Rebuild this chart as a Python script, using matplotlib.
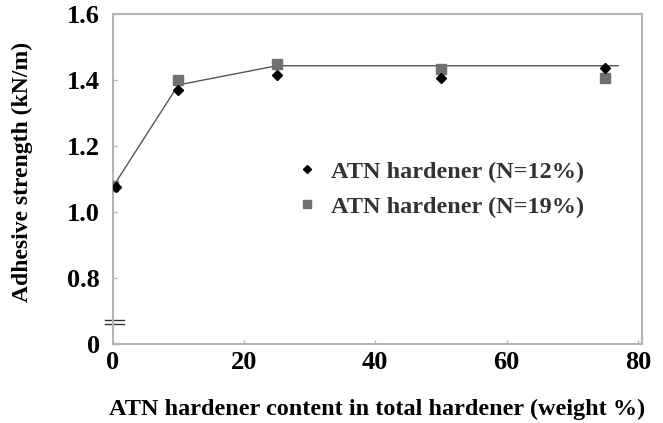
import matplotlib
matplotlib.use("Agg")
import matplotlib.pyplot as plt
import matplotlib.transforms as mtransforms

plt.rcParams['font.family'] = ['Liberation Serif', 'DejaVu Serif']
plt.rcParams['font.weight'] = 'bold'

# adhesive strength vs ATN content
x_n12 = [0.5, 10, 25, 50, 75]
y_n12 = [1.075, 1.37, 1.415, 1.405, 1.435]
x_n19 = [0, 10, 25, 50, 75]
y_n19 = [1.078, 1.40, 1.447, 1.432, 1.405]

# trend line drawn through the data
trend_x = [0, 10, 25, 77]
trend_y = [1.075, 1.385, 1.443, 1.443]

yticks = [0.6, 0.8, 1.0, 1.2, 1.4, 1.6]
ytick_labels = ['0', '0.8', '1.0', '1.2', '1.4', '1.6']
xticks = [0, 20, 40, 60, 80]

spine_col = '#b4b4b4'

fig = plt.figure(figsize=(6.63, 4.23), dpi=100)
ax = fig.add_axes([0.170, 0.187, 0.798, 0.780])

ax.plot(trend_x, trend_y, color='#555555', lw=1.0, zorder=2)
ax.plot(x_n12, y_n12, 'D', color='black', ms=5, ls='none',
        label='ATN hardener (N=12%)', zorder=4)
ax.plot(x_n19, y_n19, 's', color='#707070', ms=7, ls='none',
        label='ATN hardener (N=19%)', zorder=3)

ax.set_xlim(0, 80.6)
ax.set_ylim(0.6, 1.6)
ax.set_xticks(xticks)
ax.set_yticks(yticks)
ax.set_yticklabels(ytick_labels)

for s in ax.spines.values():
    s.set_color(spine_col)
    s.set_linewidth(1.5)

ax.tick_params(direction='in', length=3, width=1, color=spine_col,
               labelsize=19)
ax.tick_params(axis='y', pad=9)
ax.tick_params(axis='x', pad=5)

# axis break marks
trans = mtransforms.blended_transform_factory(ax.transAxes, ax.transData)
for yb in (0.661, 0.673):
    ax.plot([-0.015, 0.022], [yb, yb], color='#333333', lw=1.0,
            transform=trans, clip_on=False)

ax.set_ylabel('Adhesive strength (kN/m)', fontsize=17, fontweight='bold')
ax.set_xlabel('ATN hardener content in total hardener (weight %)',
              fontsize=17.5, fontweight='bold')
ax.yaxis.set_label_coords(-0.150, 0.52)
ax.xaxis.set_label_coords(0.5, -0.165)

leg = ax.legend(loc='upper left', bbox_to_anchor=(0.303, 0.622), frameon=False,
                fontsize=17.5, handletextpad=0.5, labelspacing=0.55,
                markerscale=0.9, handlelength=1.0)
for t in leg.get_texts():
    t.set_color('#333333')

fig.savefig('out.png', dpi=100)
